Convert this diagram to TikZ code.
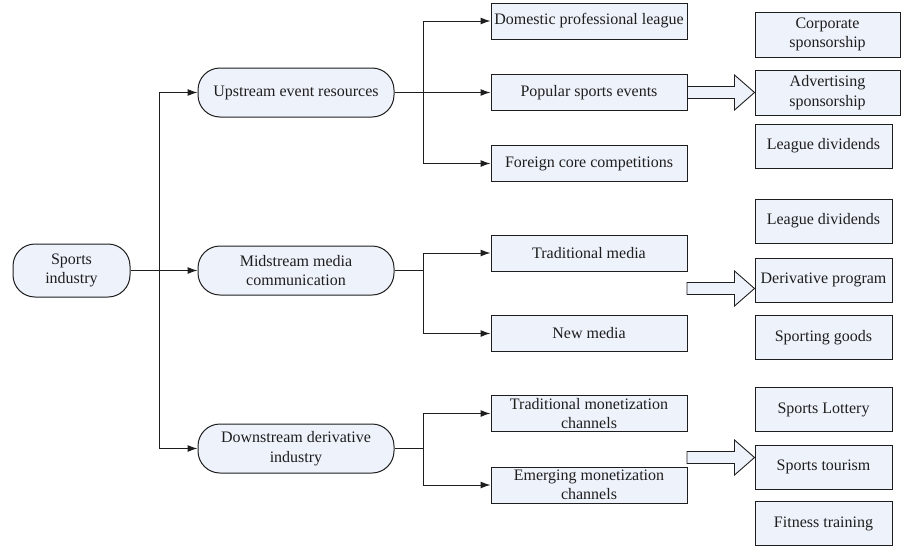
\documentclass[tikz,border=0pt]{standalone}
\usepackage{fontspec}
\setmainfont{Liberation Serif}
\usetikzlibrary{arrows.meta,calc}
\definecolor{boxfill}{RGB}{238,242,251}
\definecolor{linecol}{RGB}{30,30,30}
\tikzset{
  base/.style={draw=linecol, fill=boxfill, line width=1pt, inner sep=2pt, align=center,
    font=\fontsize{16}{19.5}\selectfont, text=linecol},
  capsule/.style={base, rounded corners=22pt, minimum width=196pt, minimum height=49pt},
  rootbox/.style={base, rounded corners=22pt, minimum width=117pt, minimum height=53pt},
  midbox/.style={base, minimum width=196pt, minimum height=36pt},
  rbox/.style={base, minimum width=137pt, minimum height=44pt},
  rwbox/.style={base, minimum width=145pt, minimum height=45pt},
  conn/.style={draw=linecol, line width=1pt, -{Latex[length=10pt,width=7pt]}},
  line/.style={draw=linecol, line width=1pt},
  fatarrow/.style={draw=linecol, fill=boxfill, line width=0.9pt, line join=miter}
}
\newcommand{\fatarr}[2]{%
  \path[fatarrow] ($(#1)+(0,-6)$) -- ($(#2)+(-20,-6)$) -- ($(#2)+(-20,-17.5)$) -- (#2)
   -- ($(#2)+(-20,17.5)$) -- ($(#2)+(-20,6)$) -- ($(#1)+(0,6)$) -- cycle;}
\begin{document}
\begin{tikzpicture}[x=1pt,y=-1pt]
\useasboundingbox (0,0) rectangle (901,546);
% level 0
\node[rootbox] (root) at (71.5,270.5) {Sports\\industry};
% level 1
\node[capsule] (up) at (296,92.5) {Upstream event resources};
\node[capsule] (mid) at (296,270.5) {Midstream media\\communication};
\node[capsule] (down) at (296,448.5) {Downstream derivative\\industry};
% level 2
\node[midbox] (dom) at (589,21) {Domestic professional league};
\node[midbox] (pop) at (589,92.5) {Popular sports events};
\node[midbox] (for) at (589,163.5) {Foreign core competitions};
\node[midbox] (tm) at (589,253) {Traditional media};
\node[midbox] (nm) at (589,333.5) {New media};
\node[midbox] (tmc) at (589,413.5) {Traditional monetization\\channels};
\node[midbox] (emc) at (589,485) {Emerging monetization\\channels};
% right column
\node[rwbox] (corp) at (827.5,34.5) {Corporate\\sponsorship};
\node[rwbox] (adv) at (827.5,92.5) {Advertising\\sponsorship};
\node[rbox] (ld1) at (823.5,146) {League dividends};
\node[rbox] (ld2) at (823.5,221) {League dividends};
\node[rbox] (der) at (823.5,280) {Derivative program};
\node[rbox] (spg) at (823.5,337.5) {Sporting goods};
\node[rbox] (lot) at (823.5,409.5) {Sports Lottery};
\node[rbox] (tour) at (823.5,467) {Sports tourism};
\node[rbox] (fit) at (823.5,523.5) {Fitness training};
% junctions
\coordinate (j0) at (159,270.5);
\coordinate (j1) at (423,92.5);
\coordinate (j2) at (423,270.5);
\coordinate (j3) at (423,448.5);
% level 0 -> 1
\draw[conn] (root.east) -- (mid.west);
\draw[conn] (j0) |- (up.west);
\draw[conn] (j0) |- (down.west);
% upstream
\draw[conn] (up.east) -- (pop.west);
\draw[conn] (j1) |- (dom.west);
\draw[conn] (j1) |- (for.west);
% midstream
\draw[line] (mid.east) -- (j2);
\draw[conn] (j2) |- (tm.west);
\draw[conn] (j2) |- (nm.west);
% downstream
\draw[line] (down.east) -- (j3);
\draw[conn] (j3) |- (tmc.west);
\draw[conn] (j3) |- (emc.west);
% fat arrows
\coordinate (a2s) at (687,288.5);
\coordinate (a2e) at (der.west |- a2s);
\coordinate (a3s) at (687,457.5);
\coordinate (a3e) at (tour.west |- a3s);
\fatarr{pop.east}{adv.west}
\fatarr{a2s}{a2e}
\fatarr{a3s}{a3e}
\end{tikzpicture}
\end{document}
